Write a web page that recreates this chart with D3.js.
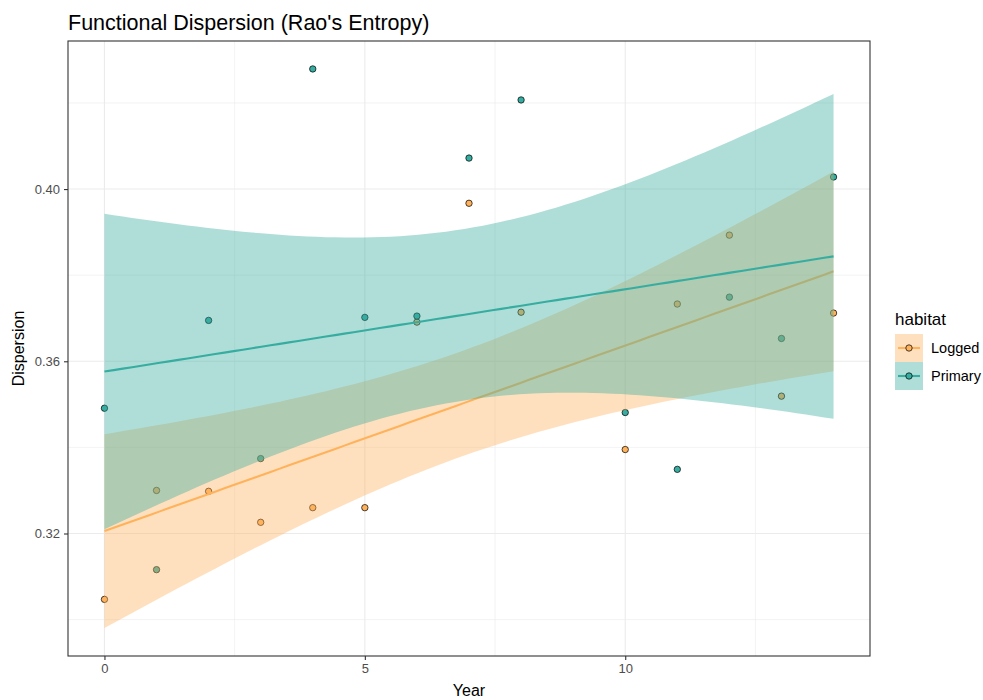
<!DOCTYPE html>
<html>
<head>
<meta charset="utf-8">
<script src="https://cdn.jsdelivr.net/npm/d3@7"></script>
<style>
  body { margin: 0; background: #fff; }
  svg { display: block; font-family: "Liberation Sans", Arial, sans-serif; }
</style>
</head>
<body>
<svg id="chart" width="983" height="700"></svg>
<script>
// Survey years (year 9 was not sampled)
const years = [0, 1, 2, 3, 4, 5, 6, 7, 8, 10, 11, 12, 13, 14];
// Rao's entropy per plot
const logged  = [0.3047, 0.3300, 0.3298, 0.3226, 0.3260, 0.3260, 0.3691, 0.3967, 0.3714, 0.3395, 0.3733, 0.3893, 0.3519, 0.3712];
const primary = [0.3491, 0.3116, 0.3695, 0.3374, 0.4279, 0.3702, 0.3705, 0.4072, 0.4207, 0.3481, 0.3349, 0.3749, 0.3653, 0.4028];
const habitats = ["Logged", "Primary"];
const colours = ["#FFB25C", "#36ADA0"];
const xTicks = [0, 5, 10];
const yTicks = [0.32, 0.36, 0.40];
const xMinor = [2.5, 7.5, 12.5];
const yMinor = [0.30, 0.34, 0.38, 0.42];

// Ordinary least squares with a 95% confidence band for the mean
function lmBand(xs, ys, steps) {
  const n = xs.length;
  const xm = d3.mean(xs), ym = d3.mean(ys);
  let sxx = 0, sxy = 0;
  xs.forEach((x, i) => { sxx += (x - xm) ** 2; sxy += (x - xm) * (ys[i] - ym); });
  const b = sxy / sxx, a = ym - b * xm;
  let sse = 0;
  xs.forEach((x, i) => { sse += (ys[i] - (a + b * x)) ** 2; });
  const s = Math.sqrt(sse / (n - 2));
  const tq = 2.178813; // t(0.975, df = 12)
  const [lo, hi] = d3.extent(xs);
  return d3.range(steps).map(k => {
    const x = lo + (hi - lo) * k / (steps - 1);
    const fit = a + b * x;
    const se = s * Math.sqrt(1 / n + (x - xm) ** 2 / sxx);
    return { x, fit, lo: fit - tq * se, hi: fit + tq * se };
  });
}

const groups = habitats.map((h, gi) => {
  const vals = gi === 0 ? logged : primary;
  return {
    name: h,
    colour: colours[gi],
    points: years.map((y, i) => ({ x: y, y: vals[i] })),
    band: lmBand(years, vals, 80)
  };
});

const svg = d3.select("#chart");
const panel = { left: 68, right: 870, top: 41, bottom: 656 };

// Scale limits: data range (points and bands) expanded by 5% each side
function expand([a, b]) { const d = (b - a) * 0.05; return [a - d, b + d]; }
const xDom = expand(d3.extent(years));
const allY = groups.flatMap(g => g.points.map(p => p.y).concat(g.band.flatMap(d => [d.lo, d.hi])));
const yDom = expand(d3.extent(allY));

const x = d3.scaleLinear().domain(xDom).range([panel.left, panel.right]);
const y = d3.scaleLinear().domain(yDom).range([panel.bottom, panel.top]);

// Grid
const grid = svg.append("g");
grid.selectAll(".xminor").data(xMinor).join("line")
  .attr("x1", d => x(d)).attr("x2", d => x(d))
  .attr("y1", panel.top).attr("y2", panel.bottom)
  .attr("stroke", "#EBEBEB").attr("stroke-width", 0.6);
grid.selectAll(".yminor").data(yMinor).join("line")
  .attr("y1", d => y(d)).attr("y2", d => y(d))
  .attr("x1", panel.left).attr("x2", panel.right)
  .attr("stroke", "#EBEBEB").attr("stroke-width", 0.6);
grid.selectAll(".xmajor").data(xTicks).join("line")
  .attr("x1", d => x(d)).attr("x2", d => x(d))
  .attr("y1", panel.top).attr("y2", panel.bottom)
  .attr("stroke", "#EBEBEB").attr("stroke-width", 1.1);
grid.selectAll(".ymajor").data(yTicks).join("line")
  .attr("y1", d => y(d)).attr("y2", d => y(d))
  .attr("x1", panel.left).attr("x2", panel.right)
  .attr("stroke", "#EBEBEB").attr("stroke-width", 1.1);

// Points first, then each habitat's band and fitted line on top
const plot = svg.append("g");
groups.forEach(g => {
  plot.append("g").selectAll("circle").data(g.points).join("circle")
    .attr("cx", d => x(d.x)).attr("cy", d => y(d.y)).attr("r", 3.2)
    .attr("fill", g.colour).attr("stroke", "#000").attr("stroke-width", 0.7);
});

const area = d3.area().x(d => x(d.x)).y0(d => y(d.lo)).y1(d => y(d.hi));
const line = d3.line().x(d => x(d.x)).y(d => y(d.fit));
groups.forEach(g => {
  plot.append("path").datum(g.band).attr("d", area)
    .attr("fill", g.colour).attr("fill-opacity", 0.4);
  plot.append("path").datum(g.band).attr("d", line)
    .attr("fill", "none").attr("stroke", g.colour).attr("stroke-width", 2.1);
});

// Panel border
svg.append("rect")
  .attr("x", panel.left).attr("y", panel.top)
  .attr("width", panel.right - panel.left).attr("height", panel.bottom - panel.top)
  .attr("fill", "none").attr("stroke", "#333333").attr("stroke-width", 1.1);

// Axes
const xAxis = svg.append("g").attr("transform", `translate(0,${panel.bottom})`)
  .call(d3.axisBottom(x).tickValues(xTicks).tickFormat(d3.format("d")).tickSize(4).tickPadding(4));
const yAxis = svg.append("g").attr("transform", `translate(${panel.left},0)`)
  .call(d3.axisLeft(y).tickValues(yTicks).tickFormat(d3.format(".2f")).tickSize(4).tickPadding(4));
[xAxis, yAxis].forEach(ax => {
  ax.select(".domain").remove();
  ax.selectAll(".tick line").attr("stroke", "#333333").attr("stroke-width", 1.1);
  ax.selectAll(".tick text").attr("fill", "#4D4D4D")
    .style("font-size", "13px").style("font-family", "Liberation Sans, Arial, sans-serif");
});

// Titles
svg.append("text").attr("x", panel.left).attr("y", 30)
  .attr("font-size", 21.5).attr("fill", "#000")
  .text("Functional Dispersion (Rao's Entropy)");
svg.append("text").attr("x", (panel.left + panel.right) / 2).attr("y", 696)
  .attr("text-anchor", "middle").attr("font-size", 16).attr("fill", "#000")
  .text("Year");
svg.append("text")
  .attr("transform", `translate(24,${(panel.top + panel.bottom) / 2}) rotate(-90)`)
  .attr("text-anchor", "middle").attr("font-size", 16).attr("fill", "#000")
  .text("Dispersion");

// Legend
const legend = svg.append("g").attr("transform", "translate(895,305)");
legend.append("text").attr("x", 0).attr("y", 20).attr("font-size", 17).attr("fill", "#000").text("habitat");
const keySize = 28;
groups.forEach((g, i) => {
  const k = legend.append("g").attr("transform", `translate(0,${29 + i * keySize})`);
  k.append("rect").attr("width", keySize).attr("height", keySize).attr("fill", "#fff");
  k.append("rect").attr("width", keySize).attr("height", keySize)
    .attr("fill", g.colour).attr("fill-opacity", 0.4);
  k.append("line").attr("x1", 3).attr("x2", keySize - 3)
    .attr("y1", keySize / 2).attr("y2", keySize / 2)
    .attr("stroke", g.colour).attr("stroke-width", 2.1);
  k.append("circle").attr("cx", keySize / 2).attr("cy", keySize / 2).attr("r", 3.2)
    .attr("fill", g.colour).attr("stroke", "#000").attr("stroke-width", 0.7);
  k.append("text").attr("x", keySize + 8).attr("y", keySize / 2)
    .attr("dy", "0.35em").attr("font-size", 14.5).attr("fill", "#000").text(g.name);
});
</script>
</body>
</html>
